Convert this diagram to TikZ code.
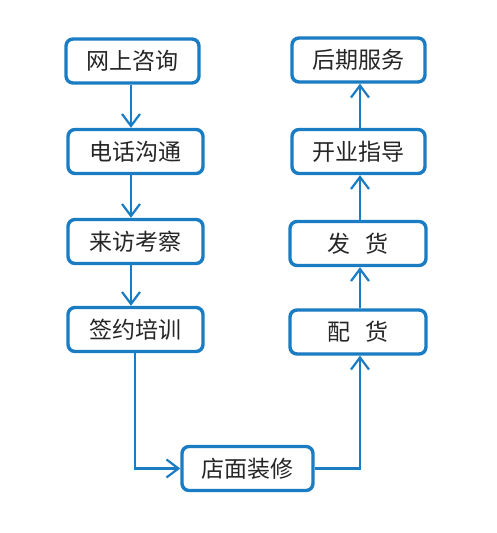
\documentclass[tikz,border=0pt]{standalone}
\usepackage{fontspec}
\setmainfont{Noto Sans CJK SC}
\usetikzlibrary{arrows.meta}
\definecolor{fblue}{HTML}{1A7CC2}
\begin{document}
\begin{tikzpicture}[x=1pt,y=-1pt,
  box/.style={draw=fblue,line width=3.4pt,rounded corners=7pt,fill=white,minimum width=133pt,minimum height=44pt,inner sep=0pt,font=\fontsize{23}{23}\selectfont,text=black!85},
  conn/.style={draw=fblue,line width=2.2pt,-{Straight Barb[length=12pt,width=18pt,line width=2.2pt]}}]
\useasboundingbox (0,0) rectangle (497,533);
\node[box] (a1) at (132.5,61) {网上咨询};
\node[box,minimum width=135pt] (a2) at (135.5,151.5) {电话沟通};
\node[box,minimum width=135pt] (a3) at (135.5,241.5) {来访考察};
\node[box,minimum width=135pt] (a4) at (135.5,329.5) {签约培训};
\node[box,minimum width=131pt] (c) at (247.5,468.5) {店面装修};
\node[box,minimum width=136pt] (b4) at (358,332) {配\ \ \ 货};
\node[box,minimum width=136pt] (b3) at (358,243.5) {发\ \ \ 货};
\node[box] (b2) at (358.5,151.5) {开业指导};
\node[box] (b1) at (358.5,60) {后期服务};
\draw[conn] (a1.south -| 131,0) -- (a2.north -| 131,0);
\draw[conn] (a2.south -| 131,0) -- (a3.north -| 131,0);
\draw[conn] (a3.south -| 131,0) -- (a4.north -| 131,0);
\draw[conn] (a4.south -| 135,0) |- (c.west);
\draw[conn] (c.east) -| (b4.south -| 360,0);
\draw[conn] (b4.north -| 360,0) -- (b3.south -| 360,0);
\draw[conn] (b3.north -| 360,0) -- (b2.south -| 360,0);
\draw[conn] (b2.north -| 360,0) -- (b1.south -| 360,0);
\end{tikzpicture}
\end{document}
